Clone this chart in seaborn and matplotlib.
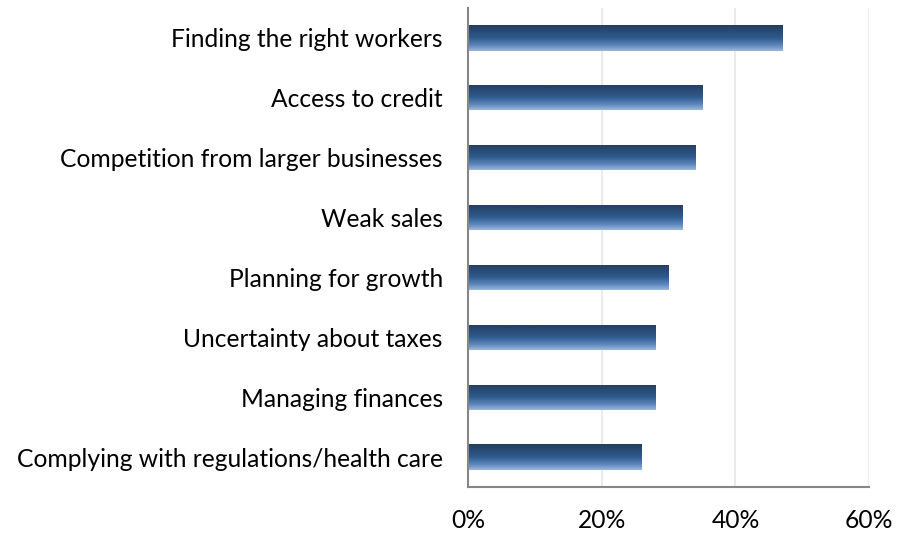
import numpy as np
import pandas as pd
import matplotlib
matplotlib.use("Agg")
import matplotlib.pyplot as plt
from matplotlib.colors import LinearSegmentedColormap
import seaborn as sns

challenges = [
    "Finding the right workers",
    "Access to credit",
    "Competition from larger businesses",
    "Weak sales",
    "Planning for growth",
    "Uncertainty about taxes",
    "Managing finances",
    "Complying with regulations/health care",
]
shares = [47, 35, 34, 32, 30, 28, 28, 26]
x_ticks = [0, 20, 40, 60]
x_tick_labels = ["0%", "20%", "40%", "60%"]

df = pd.DataFrame({"challenge": challenges, "share": shares})

sns.set_theme(style="white")
plt.rcParams["font.family"] = ["Lato", "DejaVu Sans"]

fig = plt.figure(figsize=(8.98, 5.33), dpi=100)
ax = fig.add_axes([0.521, 0.0863, 0.447, 0.8987])

sns.barplot(data=df, x="share", y="challenge", orient="h", width=0.42,
            color="#2f5a8d", ax=ax, zorder=2)

# vertical blue gradient, dark navy at the top edge of each bar to pale blue at the bottom
grad = LinearSegmentedColormap.from_list(
    "bar_grad", [(0.0, "#243d5e"), (0.5, "#2f5b8e"), (0.78, "#5f86bb"), (1.0, "#9ab8dc")]
)
g = np.linspace(0, 1, 256).reshape(-1, 1)
for patch in ax.patches:
    x0, y0 = patch.get_x(), patch.get_y()
    w, h = patch.get_width(), patch.get_height()
    im = ax.imshow(g, cmap=grad, aspect="auto", extent=(x0, x0 + w, y0 + h, y0),
                   origin="upper", zorder=3, interpolation="bilinear")
    im.set_clip_path(patch)
    patch.set_facecolor("none")
    patch.set_edgecolor("none")

ax.set_xlim(0, 60)
ax.set_ylim(7.5, -0.5)
ax.set_xticks(x_ticks)
ax.set_xticklabels(x_tick_labels)
ax.set_xlabel("")
ax.set_ylabel("")

ax.grid(axis="x", color="#e6e6e6", linewidth=1.2, zorder=0)
ax.grid(axis="y", visible=False)
for side in ["top", "right"]:
    ax.spines[side].set_visible(False)
for side in ["left", "bottom"]:
    ax.spines[side].set_color("#868686")
    ax.spines[side].set_linewidth(1.5)
    ax.spines[side].set_zorder(4)

ax.tick_params(axis="y", length=0, pad=18, labelsize=17.7, labelcolor="black")
ax.tick_params(axis="x", length=0, pad=16, labelsize=17.7, labelcolor="black")

fig.savefig("out.png", dpi=100)
